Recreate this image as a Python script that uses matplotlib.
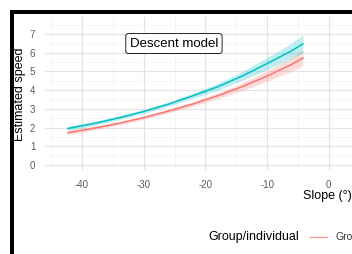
import matplotlib
matplotlib.use("Agg")
import matplotlib.pyplot as plt
from matplotlib.patches import Rectangle
from matplotlib.lines import Line2D

plt.rcParams['font.family'] = ['Liberation Sans', 'DejaVu Sans']
plt.rcParams['axes.unicode_minus'] = False

# slope values (degrees)
slope = [-42.3, -38, -34, -30, -26, -22, -18, -14, -10, -6, -4.2]

# group curve (cyan)
group_fit = [1.95, 2.22, 2.52, 2.86, 3.25, 3.70, 4.18, 4.76, 5.42, 6.11, 6.47]
group_lo = [1.82, 2.11, 2.42, 2.76, 3.14, 3.56, 4.00, 4.52, 5.10, 5.70, 6.00]
group_hi = [2.08, 2.33, 2.62, 2.96, 3.36, 3.84, 4.36, 5.00, 5.74, 6.52, 6.95]

# individual curve (red)
indiv_fit = [1.72, 1.97, 2.23, 2.53, 2.88, 3.26, 3.70, 4.19, 4.75, 5.38, 5.72]
indiv_lo = [1.61, 1.87, 2.14, 2.44, 2.78, 3.14, 3.55, 3.98, 4.47, 5.02, 5.30]
indiv_hi = [1.83, 2.07, 2.32, 2.62, 2.98, 3.38, 3.85, 4.40, 5.03, 5.74, 6.14]

xticks = [-40, -30, -20, -10, 0]
yticks = [0, 1, 2, 3, 4, 5, 6, 7]

W, H = 352, 254
fig = plt.figure(figsize=(W / 100, H / 100), dpi=100)

# panel runs past the right edge (cropped figure)
ax = fig.add_axes([45 / W, 1 - 170 / H, 345.5 / W, 153 / H])
ax.set_xlim(-46, 10)
ax.set_ylim(-0.27, 7.91)

# ggplot minimal style grid
for v in range(-45, 10, 10):
    ax.axvline(v, color='#F0F0F0', lw=0.5, zorder=0)
for v in xticks:
    ax.axvline(v, color='#E3E3E3', lw=0.9, zorder=0)
for v in yticks:
    ax.axhline(v + 0.5, color='#F0F0F0', lw=0.5, zorder=0)
    ax.axhline(v, color='#E3E3E3', lw=0.9, zorder=0)

cyan = '#00BFC4'
red = '#F8766D'
ax.fill_between(slope, indiv_lo, indiv_hi, color=red, alpha=0.25, lw=0)
ax.fill_between(slope, group_lo, group_hi, color=cyan, alpha=0.25, lw=0)
ax.plot(slope, indiv_fit, color=red, lw=1.1)
ax.plot(slope, group_fit, color=cyan, lw=1.1)

ax.set_xticks(xticks)
ax.set_yticks(yticks)
ax.tick_params(length=0, labelsize=7, colors='#5A5A5A', pad=7)
for s in ax.spines.values():
    s.set_visible(False)

ax.text(-25.1, 6.49, 'Descent model', fontsize=9.5, ha='center', va='center',
        bbox=dict(boxstyle='round,pad=0.3,rounding_size=0.2', fc='white', ec='black', lw=0.6))

# axis titles
fig.text(20 / W, 1 - 94 / H, 'Estimated speed', rotation=90, fontsize=9,
         ha='center', va='center')
fig.text(303 / W, 1 - 196 / H, 'Slope (°)', fontsize=9, ha='left', va='center')

# legend at bottom
fig.text(208 / W, 1 - 237 / H, 'Group/individual', fontsize=9, ha='left', va='center')
fig.add_artist(Line2D([310 / W, 327 / W], [1 - 237 / H, 1 - 237 / H], color=red, lw=1, alpha=0.7))
fig.text(336 / W, 1 - 237 / H, 'Group', fontsize=7.5, ha='left', va='center', color='#333333')

# thick black frame of the crop
fig.add_artist(Rectangle((10 / W, 1 - 14 / H), 1, 4 / H, transform=fig.transFigure,
                         color='black', lw=0))
fig.add_artist(Rectangle((10 / W, 0), 4 / W, 1 - 10 / H, transform=fig.transFigure,
                         color='black', lw=0))

fig.savefig('out.png', dpi=100)
